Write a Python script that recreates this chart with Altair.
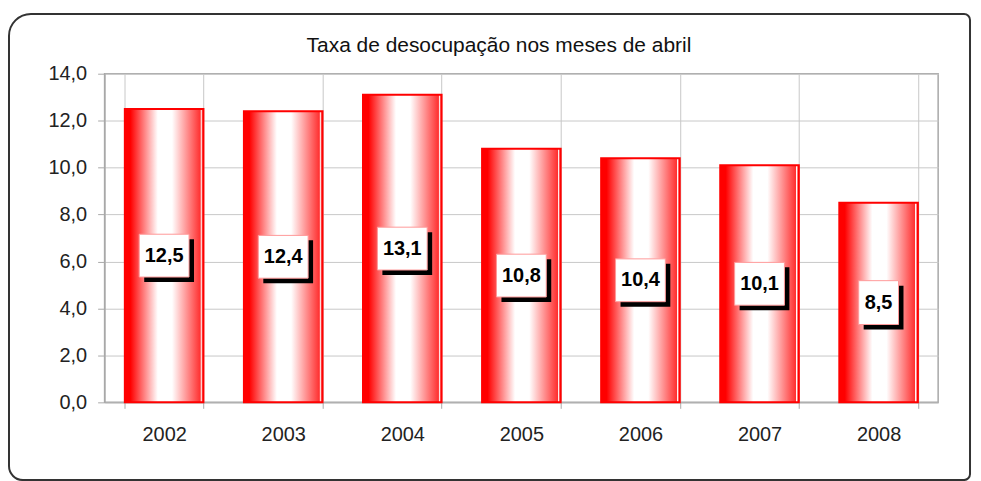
import altair as alt
import pandas as pd

anos = ["2002", "2003", "2004", "2005", "2006", "2007", "2008"]
taxas = [12.5, 12.4, 13.1, 10.8, 10.4, 10.1, 8.5]
y_ticks = [0, 2, 4, 6, 8, 10, 12, 14]
titulo = "Taxa de desocupação nos meses de abril"

df = pd.DataFrame({"ano": anos, "taxa": taxas})

FONT = "Liberation Sans"
GRID = "#c8c8c8"
FRAME = "#a8a8a8"

x_axis = alt.Axis(labelAngle=0, tickBand="extent", grid=True, gridColor=GRID,
                  tickColor=FRAME, tickSize=6, labelPadding=16, labelFontSize=20,
                  labelFont=FONT, labelColor="#222", domainColor=FRAME)
x_scale = alt.Scale(paddingInner=0.34, paddingOuter=0.17)
y_axis = alt.Axis(values=y_ticks, labelExpr="replace(format(datum.value,'.1f'),'.',',')",
                  grid=True, gridColor=GRID, tickColor=FRAME, tickSize=7, labelPadding=11,
                  labelFontSize=20, labelFont=FONT, labelColor="#222", domainColor=FRAME)
y_scale = alt.Scale(domain=[0, 14])


def xe():
    return alt.X("ano:N", sort=anos, title=None, scale=x_scale, axis=x_axis)


def ye(field):
    return alt.Y(field, title=None, scale=y_scale, axis=y_axis)


base = alt.Chart(df)

one = alt.Data(values=[{"t": titulo}])

border = alt.Chart(one).mark_rect(
    fillOpacity=0, stroke="#333333", strokeWidth=2,
    cornerRadiusTopLeft=22, cornerRadiusTopRight=6,
    cornerRadiusBottomLeft=14, cornerRadiusBottomRight=6,
).encode(x=alt.value(-96), x2=alt.value(869), y=alt.value(-60), y2=alt.value(408))

title_mark = alt.Chart(one).mark_text(
    font=FONT, fontSize=21, color="#111", align="center", baseline="alphabetic",
).encode(x=alt.value(396), y=alt.value(-22), text="t:N")

grad = alt.Gradient(
    gradient="linear", x1=0, x2=1, y1=0, y2=0,
    stops=[
        alt.GradientStop(color="#ff0000", offset=0),
        alt.GradientStop(color="#ff0000", offset=0.07),
        alt.GradientStop(color="#ffffff", offset=0.42),
        alt.GradientStop(color="#ffffff", offset=0.6),
        alt.GradientStop(color="#ff3030", offset=0.96),
        alt.GradientStop(color="#ffffff", offset=0.97),
        alt.GradientStop(color="#ff0000", offset=1),
    ],
)

bars = base.mark_bar(fill=grad, stroke="#ff0000", strokeWidth=2).encode(
    x=xe(), y=ye("taxa:Q"))

wide = "M-1,-0.86L1,-0.86L1,0.86L-1,0.86Z"
narrow = "M-0.8,-0.88L0.8,-0.88L0.8,0.88L-0.8,0.88Z"

lab = base.transform_calculate(
    meio="datum.taxa / 2",
    rotulo="replace(format(datum.taxa,'.1f'),'.',',')",
)
shape_enc = alt.condition("datum.taxa < 10", alt.value(narrow), alt.value(wide))

shadow = lab.mark_point(filled=True, fill="black", strokeWidth=0, opacity=1,
                        xOffset=5, yOffset=5).encode(
    x=xe(), y=ye("meio:Q"), shape=shape_enc, size=alt.value(2500))
box = lab.mark_point(filled=True, fill="white", stroke="#ff9999", strokeWidth=1,
                     opacity=1).encode(
    x=xe(), y=ye("meio:Q"), shape=shape_enc, size=alt.value(2500))
text = lab.mark_text(font=FONT, fontSize=20, fontWeight="bold", color="black",
                     baseline="middle").encode(
    x=xe(), y=ye("meio:Q"), text="rotulo:N")

chart = alt.layer(bars, shadow, box, text, border, title_mark).properties(
    width=837, height=330,
    autosize=alt.AutoSizeParams(type="none"),
    padding={"left": 97, "top": 65, "right": 35, "bottom": 78},
).configure_view(stroke=FRAME, strokeWidth=1.5)

chart.save("out.html", embed_options={"renderer": "svg", "actions": False})
